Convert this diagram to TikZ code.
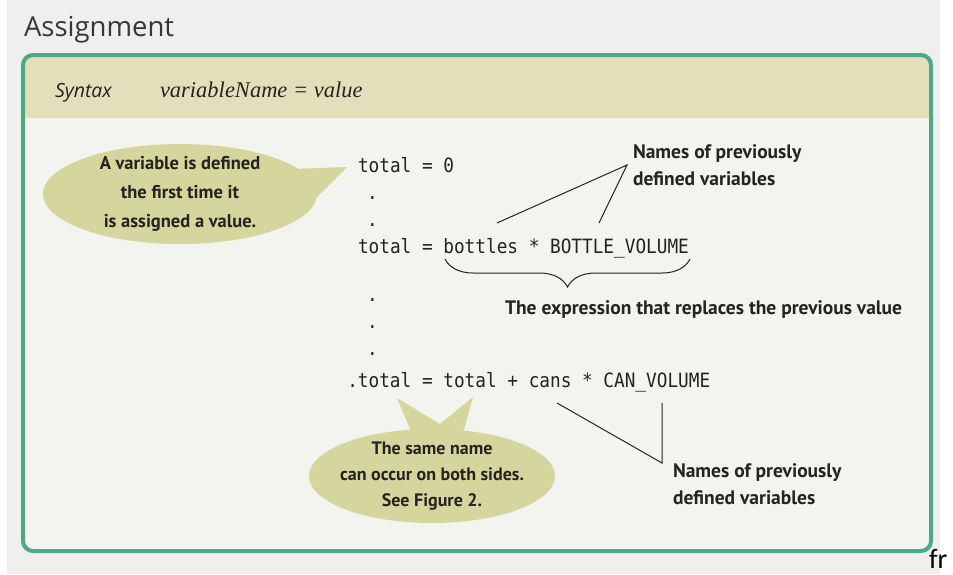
\documentclass[tikz,border=0pt]{standalone}
\usepackage{fontspec}
\setmainfont{Liberation Serif}
\setsansfont{Open Sans}
\setmonofont[FakeStretch=0.9]{DejaVu Sans Mono}
\newfontfamily\notefont{PT Sans}
\newfontfamily\pagefont{Carlito}
\usetikzlibrary{positioning, shapes.geometric, decorations.pathreplacing}

\definecolor{pagegray}{RGB}{239,239,238}
\definecolor{boxgreen}{RGB}{78,168,136}
\definecolor{bandkhaki}{RGB}{227,223,187}
\definecolor{innerfill}{RGB}{243,243,239}
\definecolor{bubblefill}{RGB}{212,214,158}
\definecolor{inktext}{RGB}{38,35,30}
\definecolor{titletext}{RGB}{55,55,55}

\tikzset{
every node/.style={inner sep=0pt, outer sep=0pt, text=inktext}, % no padding, pixel exact
codeline/.style={anchor=base west, font=\ttfamily\fontsize{19.7}{27}\selectfont}, % program text
note/.style={font=\notefont\bfseries\fontsize{19.5}{27}\selectfont, align=center}, % hand lettering
bubble/.style={ellipse, fill=bubblefill}, % speech bubble body
framebox/.style={rectangle, rounded corners=10pt, fill=innerfill}, % the syntax box
pointer/.style={draw=inktext, line width=1pt}, % thin callout lines
}

\begin{document}
\begin{tikzpicture}[x=1pt, y=-1pt]
  \useasboundingbox (0,0) rectangle (953,574);
  \fill[white] (0,0) rectangle (953,574);
  \fill[pagegray] (7,0) rectangle (940,574);

  \node[anchor=base west, font=\sffamily\fontsize{27.5}{30}\selectfont, text=titletext] (title) at (24,36) {Assignment};

  % box with the khaki header band
  \node[framebox, minimum width=908pt, minimum height=496pt] (frame) at (477,303) {};
  \begin{scope}
    \clip[rounded corners=10pt] (frame.north west) rectangle (frame.south east);
    \fill[bandkhaki] (frame.north west) rectangle ([yshift=-63pt]frame.north east);
  \end{scope}
  \draw[boxgreen, line width=4pt, rounded corners=10pt] (frame.north west) rectangle (frame.south east);

  \node[anchor=base west, font=\sffamily\itshape\fontsize{19.5}{22}\selectfont] (syntax) at (55,97) {Syntax};
  \node[anchor=base west, font=\rmfamily\itshape\fontsize{22.5}{24}\selectfont] (form) at (160,97) {variableName = value};

  % code
  \node[codeline] (firstline) at (358,172) {total = 0};
  \node[codeline] (secondline) at (358,253) {total = bottles * BOTTLE\_VOLUME};
  \node[codeline] (thirdline) at (347.3,387) {.total = total + cans * CAN\_VOLUME};
  \foreach \y in {199,226,301,328,355}
    \node[codeline] (dot\y) at (367,\y) {.};

  \coordinate (braceL) at (445,259);
  \coordinate (braceR) at (690,259);
  \draw[decorate, decoration={brace, mirror, amplitude=28pt}, line width=1pt, inktext] (braceL) -- (braceR);
  \node[note, anchor=west] (exprlabel) at (505,310) {The expression that replaces the previous value};

  % upper callout
  \coordinate (upjoin) at (627,165);
  \coordinate (upfromA) at (497,223);
  \coordinate (upfromB) at (599,223);
  \draw[pointer] (upfromA) -- (upjoin) -- (upfromB);
  \node[note, align=left, right=6pt of upjoin] (upnames) {Names of previously\\defined variables};

  % lower callout
  \coordinate (lowjoin) at (662,463);
  \coordinate (lowfromA) at (557,403);
  \coordinate (lowfromB) at (662,403);
  \draw[pointer] (lowfromA) -- (lowjoin) -- (lowfromB);
  \node[note, align=left, anchor=west] (lownames) at (673,484) {Names of previously\\defined variables};

  % bubbles
  \node[bubble, minimum width=274pt, minimum height=100pt] (firstnote) at (180,194) {};
  \coordinate (firsttip) at (347,167);
  \fill[bubblefill] (firstnote.12) -- (firsttip) -- (firstnote.-15) -- cycle;
  \node[note, font=\notefont\bfseries\fontsize{18.5}{29}\selectfont] (firsttext) at (firstnote) {A variable is defined\\the first time it\\is assigned a value.};

  \node[bubble, minimum width=246pt, minimum height=94pt] (secondnote) at (432,476) {};
  \coordinate (secondtipL) at (397,398);
  \coordinate (secondnotch) at (440,424);
  \coordinate (secondtipR) at (473,397);
  \fill[bubblefill] (secondnote.115) -- (secondtipL) -- (secondnotch) -- (secondtipR) -- (secondnote.55) -- cycle;
  \node[note, font=\notefont\bfseries\fontsize{18}{26}\selectfont] (secondtext) at (secondnote) {The same name\\can occur on both sides.\\See Figure 2.};

  \node[anchor=base west, font=\pagefont\fontsize{28}{30}\selectfont, text=black] (pagefrag) at (929,568) {fr};
\end{tikzpicture}
\end{document}
